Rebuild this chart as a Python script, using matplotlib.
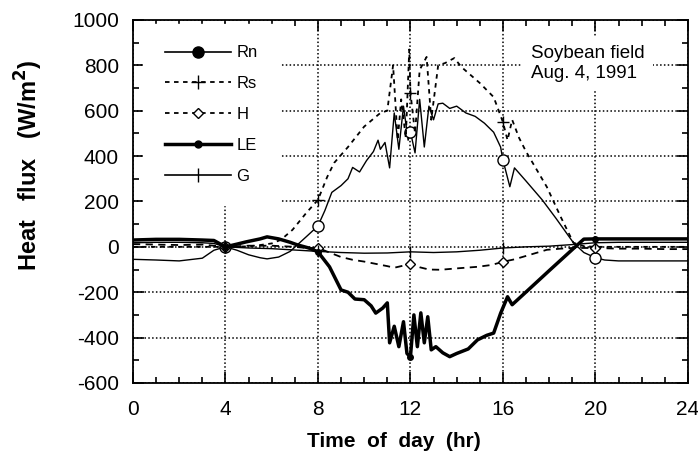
import numpy as np
import matplotlib
matplotlib.use("Agg")
import matplotlib.pyplot as plt
from matplotlib.lines import Line2D
from matplotlib.ticker import MultipleLocator

plt.rcParams["font.family"] = ["Liberation Sans", "DejaVu Sans"]
plt.rcParams["axes.unicode_minus"] = False

# hours of the day where the symbols are drawn
mark_hours = [4, 8, 12, 16, 20]

# net radiation Rn
rn_t = [0, 1, 2, 3, 3.5, 4, 4.5, 5, 5.5, 5.8, 6.3, 6.8, 7.1, 7.5, 8, 8.3, 8.6, 9, 9.3,
        9.5, 9.8, 10.1, 10.4, 10.6, 10.7, 10.9, 11.1, 11.3, 11.5, 11.7, 11.9, 12, 12.2,
        12.4, 12.6, 12.8, 13.0, 13.2, 13.4, 13.7, 14.0, 14.4, 14.8, 15.2, 15.6, 15.9,
        16, 16.3, 16.5, 17, 17.7, 18.3, 19.05, 19.5, 20, 20.4, 21, 22, 23, 24]
rn_v = [-55, -58, -62, -50, -15, 0, -15, -35, -48, -53, -45, -20, 8, 45, 92, 160, 240,
        270, 300, 350, 330, 380, 420, 470, 430, 460, 348, 590, 430, 620, 470, 507, 414,
        650, 440, 620, 560, 630, 633, 610, 620, 590, 575, 545, 505, 440, 383, 265, 348,
        290, 207, 125, 18, -25, -48, -58, -62, -62, -62, -62]

# solar radiation Rs
rs_t = [0, 2, 4, 5, 5.5, 6, 6.4, 6.9, 7.5, 8, 8.4, 8.7, 9.3, 10, 10.7, 11.0, 11.25,
        11.45, 11.6, 11.8, 11.95, 12.0, 12.2, 12.4, 12.7, 12.9, 13.2, 13.5, 13.9, 14.2,
        15, 15.6, 16, 16.2, 16.4, 16.7, 17, 17.9, 18.5, 19.05, 19.5, 20, 21, 22, 23, 24]
rs_v = [0, 0, 0, 2, 8, 15, 31, 75, 150, 207, 308, 370, 440, 530, 590, 600, 800, 470,
        650, 480, 870, 680, 500, 780, 837, 560, 800, 810, 832, 793, 722, 660, 550, 470,
        560, 480, 420, 264, 132, 18, 3, 0, 0, 0, 0, 0]

# sensible heat H
h_t = [0, 1, 2, 3, 4, 5, 6, 7, 7.5, 8, 8.5, 9, 9.5, 10, 10.5, 11, 11.3, 11.6, 12, 12.4,
       12.8, 13.3, 14, 14.9, 15.5, 16, 16.5, 17, 17.5, 17.9, 18.5, 19, 20, 21, 22, 23, 24]
h_v = [12, 10, 8, 10, 0, 5, 5, 0, -5, -5, -25, -45, -57, -65, -75, -85, -92, -85, -75,
       -90, -100, -101, -95, -88, -80, -66, -55, -40, -25, -13, -8, -5, -5, -8, -8, -10,
       -10]

# latent heat LE
le_t = [0, 1, 2, 3, 3.5, 4, 4.5, 4.9, 5.5, 5.8, 6.3, 6.8, 7.1, 7.6, 8, 8.5, 9, 9.3,
        9.6, 10, 10.3, 10.5, 10.8, 11.0, 11.1, 11.3, 11.5, 11.7, 11.85, 12, 12.15, 12.3,
        12.45, 12.6, 12.75, 12.9, 13.1, 13.4, 13.7, 14.0, 14.5, 14.9, 15.3, 15.6, 15.9,
        16.2, 16.4, 17, 18, 19, 19.5, 20, 21, 22, 23, 24]
le_v = [30, 33, 33, 30, 28, 0, 12, 22, 35, 44, 35, 20, 9, -5, -22, -88, -190, -200,
        -230, -233, -260, -292, -270, -247, -423, -350, -440, -330, -470, -485, -300,
        -440, -291, -423, -308, -454, -440, -467, -484, -470, -450, -410, -390, -380,
        -293, -220, -255, -199, -105, -12, 34, 35, 35, 35, 35, 35]

# soil heat G
g_t = [0, 1, 2, 3, 3.5, 4, 5, 6, 7, 8, 9, 10, 11, 12, 13, 14, 15, 16, 17, 18, 19, 20,
       21, 22, 23, 24]
g_v = [18, 20, 20, 18, 15, 0, -5, -8, -14, -20, -25, -28, -27, -22, -25, -22, -15, -5,
       0, 3, 10, 18, 20, 20, 20, 20]


def marks(t):
    return [t.index(m) for m in mark_hours if m in t]


fig = plt.figure(figsize=(6.98, 4.51), dpi=100)
ax = fig.add_axes([0.1905, 0.1508, 0.795, 0.805])

ax.plot(rn_t, rn_v, color="black", linewidth=1.0, marker="o", markersize=8,
        markerfacecolor="white", markeredgewidth=1.0, markevery=marks(rn_t), zorder=3)
ax.plot(rs_t, rs_v, color="black", linewidth=1.3, linestyle=(0, (2.5, 2.5)),
        marker="+", markersize=8, markevery=marks(rs_t), zorder=3)
ax.plot(h_t, h_v, color="black", linewidth=1.3, linestyle=(0, (4, 3)), marker="D",
        markersize=5, markerfacecolor="white", markevery=marks(h_t), zorder=3)
ax.plot(le_t, le_v, color="black", linewidth=2.5, marker="o", markersize=4,
        markevery=marks(le_t), zorder=3)
ax.plot(g_t, g_v, color="black", linewidth=1.0, marker="|", markersize=8,
        markevery=marks(g_t), zorder=3)

ax.set_xlim(0, 24)
ax.set_ylim(-600, 1000)
ax.xaxis.set_major_locator(MultipleLocator(4))
ax.xaxis.set_minor_locator(MultipleLocator(1))
ax.yaxis.set_major_locator(MultipleLocator(200))
ax.yaxis.set_minor_locator(MultipleLocator(100))
ax.tick_params(which="both", direction="in", top=True, right=True, width=1.2)
ax.tick_params(which="major", length=8, labelsize=15)
ax.tick_params(axis="y", which="major", pad=10)
ax.tick_params(axis="x", which="major", pad=12)
ax.tick_params(which="minor", length=4)
for s in ax.spines.values():
    s.set_linewidth(1.3)

ax.grid(True, which="major", color="black", linestyle=(0, (1, 1.5)), linewidth=1.1)
ax.set_axisbelow(True)

ax.set_xlabel("Time  of  day  (hr)", fontsize=15, fontweight="bold")
ax.xaxis.set_label_coords(0.47, -0.135)
ax.set_ylabel("Heat   flux   (W/m$^\\mathbf{2}$)", fontsize=17, fontweight="bold")
ax.yaxis.set_label_coords(-0.158, 0.60)

handles = [
    Line2D([], [], color="black", linewidth=1.2, marker="o", markersize=8),
    Line2D([], [], color="black", linewidth=1.3, linestyle=(0, (2.5, 2.5)),
           marker="+", markersize=10),
    Line2D([], [], color="black", linewidth=1.3, linestyle=(0, (2.5, 2.5)),
           marker="D", markersize=5, markerfacecolor="white"),
    Line2D([], [], color="black", linewidth=2.5, marker="o", markersize=5),
    Line2D([], [], color="black", linewidth=1.2, marker="|", markersize=10),
]
leg = ax.legend(handles, ["Rn", "Rs", "H", "LE", "G"], loc="upper left",
                bbox_to_anchor=(0.0, 1.017), fontsize=12, handlelength=4.0,
                labelspacing=0.95, handletextpad=0.3, borderpad=1.3,
                frameon=True, fancybox=False, borderaxespad=0.6)
leg.get_frame().set_facecolor("white")
leg.get_frame().set_edgecolor("white")
leg.get_frame().set_alpha(1.0)

ax.text(17.2, 889, "Soybean field\nAug. 4, 1991", fontsize=13.5, va="top", ha="left",
        linespacing=1.2,
        bbox=dict(facecolor="white", edgecolor="none", pad=6), zorder=4)

fig.savefig("out.png", dpi=100)
